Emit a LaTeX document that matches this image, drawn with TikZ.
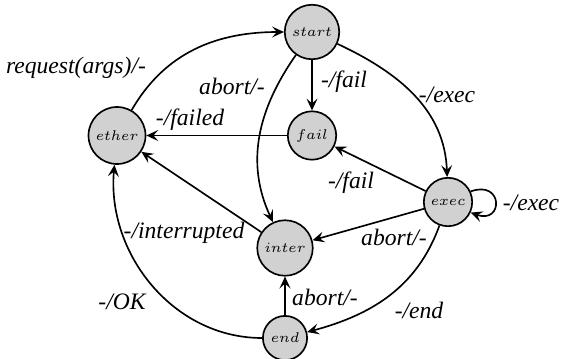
\documentclass[tikz,border=0pt]{standalone}
\usepackage{fontspec}
\setmainfont{Liberation Serif}
\usetikzlibrary{arrows.meta}
\begin{document}
\begin{tikzpicture}[x=0.4237pt,y=0.4237pt,
  state/.style={circle,draw,line width=0.7pt,fill=gray!36,inner sep=2.3pt,
    font=\fontsize{5.6}{6.5}\selectfont},
  trans/.style={line width=0.7pt,-{Stealth[length=5pt,width=4.6pt,inset=2pt]}},
  lbl/.style={font=\itshape\fontsize{10}{12}\selectfont,inner sep=0pt}]
\useasboundingbox (0,0) rectangle (561,-358);

% states
\node[state] (start) at (312,-32)    {$start$};
\node[state] (ether) at (117,-135.5) {$ether$};
\node[state] (fail)  at (312,-135.5) {$fail$};
\node[state] (exec)  at (448,-202)   {$exec$};
\node[state] (inter) at (285,-248)   {$inter$};
\node[state] (end)   at (285,-338)   {$end$};

% transitions
\draw[trans] (ether) to[out=60,in=180] (start);
\draw[trans] (start) -- (fail);
\draw[trans] (start) to[out=-25,in=92] (exec);
\draw[trans] (start) to[out=235,in=115] (inter);
\draw[trans] (fail) -- (ether);
\draw[trans] (exec) -- (fail);
\draw[trans] (exec.25) .. controls +(20:35) and +(-20:35) .. (exec.-25);
\draw[trans] (exec) -- (inter);
\draw[trans] (end) -- (inter);
\draw[trans] (exec) to[out=-110,in=15] (end);
\draw[trans] (inter) -- (ether);
\draw[trans] (end) to[out=180,in=-95] (ether);

% transition labels
\node[lbl] (lreq)   at (76,-68)   {request(args)/-};
\node[lbl] (lsf)    at (344,-82)  {-/fail};
\node[lbl] (lse)    at (447,-95)  {-/exec};
\node[lbl] (lsi)    at (232,-86)  {abort/-};
\node[lbl] (lfe)    at (190,-120) {-/failed};
\node[lbl] (lef)    at (351,-183) {-/fail};
\node[lbl] (lee)    at (531,-203) {-/exec};
\node[lbl] (lei)    at (394,-237) {abort/-};
\node[lbl] (lni)    at (325,-297) {abort/-};
\node[lbl] (len)    at (419,-310) {-/end};
\node[lbl] (lie)    at (184,-233) {-/interrupted};
\node[lbl] (lok)    at (122,-302) {-/OK};
\end{tikzpicture}
\end{document}
